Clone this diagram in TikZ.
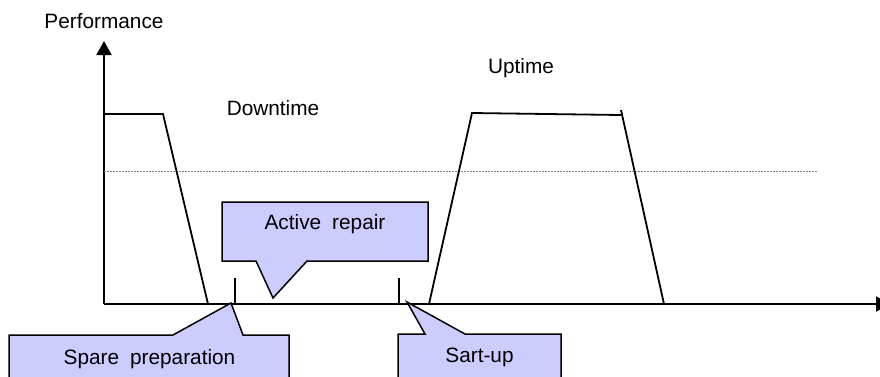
\documentclass[tikz,border=0pt]{standalone}
\usepackage{fontspec}
\setmainfont{Liberation Sans}
\usetikzlibrary{arrows.meta}
\definecolor{calloutfill}{RGB}{204,204,255}
\tikzset{
  axisline/.style={line width=2pt, -{Triangle[length=14pt,width=15pt]}},
  curve/.style={line width=1.8pt},
  tickmark/.style={line width=1.5pt},
  threshold/.style={line width=0.7pt, gray, dash pattern=on 2pt off 1pt},
  callout/.style={fill=calloutfill, draw=black, line width=1.5pt, line join=miter},
  label/.style={font=\fontsize{20.8}{24}\selectfont, inner sep=0pt, anchor=center}
}
\begin{document}
\begin{tikzpicture}[x=1pt,y=-1pt]
\useasboundingbox (0,0) rectangle (880,376);
\clip (0,0) rectangle (880,376);

% axes
\coordinate (O) at (104,304);
\coordinate (ytop) at (104,41);
\coordinate (xend) at (890,304);
\draw[axisline] (O) -- (ytop);
\draw[axisline] (O) -- (xend);

% required performance level
\coordinate (thA) at (104,171);
\coordinate (thB) at (818,171);
\draw[threshold] (thA) -- (thB);

% performance before failure
\coordinate (p1) at (104,114);
\coordinate (p2) at (163,114);
\coordinate (p3) at (208,304);
\draw[curve] (p1) -- (p2) -- (p3);

% performance after restart
\coordinate (q1) at (429,304);
\coordinate (q2) at (472,113);
\coordinate (q3) at (621,115);
\coordinate (q3a) at (621,110);
\coordinate (q4) at (664,304);
\draw[curve] (q1) -- (q2) -- (q3);
\draw[curve] (q3a) -- (q4);

% phase boundaries
\coordinate (t1a) at (235,278);
\coordinate (t1b) at (235,304);
\coordinate (t2a) at (399,278);
\coordinate (t2b) at (399,304);
\draw[tickmark] (t1a) -- (t1b);
\draw[tickmark] (t2a) -- (t2b);

% callouts
\draw[callout] (9,400) -- (9,335) -- (173,335) -- (231,303) -- (243,335)
  -- (289,335) -- (289,400);
\draw[callout] (222,202) -- (428,202) -- (428,261) -- (307,261) -- (273,298)
  -- (256,261) -- (222,261) -- cycle;
\draw[callout] (398,400) -- (398,334) -- (425,334) -- (407,302) -- (465,334)
  -- (561,334) -- (561,400);

% texts
\node[label] (perf) at (104,21) {Performance};
\node[label] (down) at (273,108) {Downtime};
\node[label] (up) at (521,68) {Uptime};
\node[label] (rep) at (325,224) {Active\hspace{0.25em} repair};
\node[label] (spare) at (149.5,359) {Spare\hspace{0.25em} preparation};
\node[label] (start) at (479.5,357) {Sart-up};
\end{tikzpicture}
\end{document}
